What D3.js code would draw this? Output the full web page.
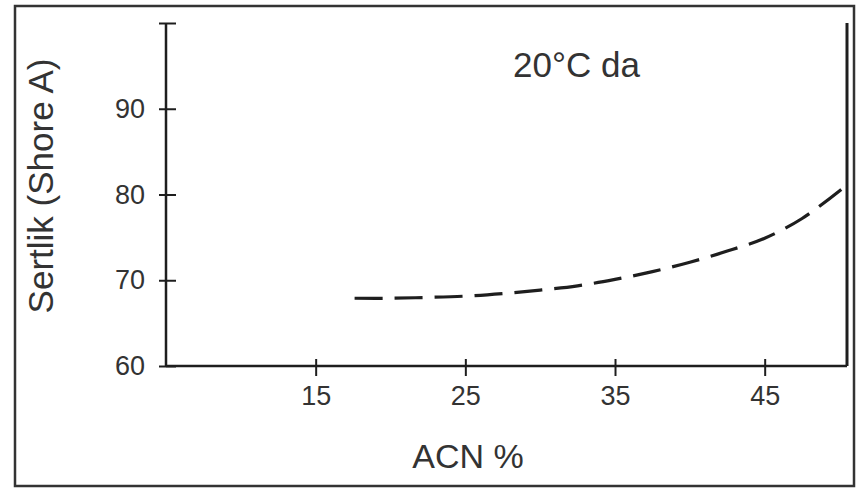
<!DOCTYPE html>
<html>
<head>
<meta charset="utf-8">
<script src="https://cdn.jsdelivr.net/npm/d3@7"></script>
<style>
html,body{margin:0;padding:0;background:#fff;}
svg{display:block;}
text{font-family:"Liberation Sans",Arial,Helvetica,sans-serif;fill:#333;}
</style>
</head>
<body>
<svg id="chart" width="856" height="488"></svg>
<script>
// Data
const acn      = [17.6, 20, 22.5, 25, 27.5, 30, 32.5, 35, 37.5, 40, 42.5, 45, 47.5, 50.2];
const hardness = [67.9, 67.9, 68.0, 68.15, 68.45, 68.85, 69.35, 70.1, 71.0, 72.1, 73.4, 74.9, 77.2, 80.7];
const xTicks = [15, 25, 35, 45];
const yTicks = [60, 70, 80, 90, 100];
const yLabels = ["60", "70", "80", "90", ""];
const titleText = "20°C da";
const xTitle = "ACN %";
const yTitle = "Sertlik (Shore A)";

const svg = d3.select("#chart");
const ink = "#1e1e1e";

// outer frame
svg.append("rect").attr("x", 15).attr("y", 6).attr("width", 839).attr("height", 480)
  .attr("fill", "#fff").attr("stroke", "#333").attr("stroke-width", 2.5);

const x = d3.scaleLinear().domain([5, 50.5]).range([166, 847]);
const y = d3.scaleLinear().domain([60, 100]).range([366, 23]);

// Y axis
const yAxis = svg.append("g").attr("transform", `translate(${x(5)},0)`)
  .call(d3.axisLeft(y).tickValues(yTicks).tickSize(7).tickPadding(14)
    .tickFormat((d, i) => yLabels[i]));
yAxis.select(".domain").remove();
yAxis.selectAll(".tick line").attr("x1", 10).attr("x2", -7).attr("stroke", ink).attr("stroke-width", 2);
yAxis.selectAll(".tick text").style("font-size", "27px").attr("fill", "#333");
svg.append("line").attr("x1", x(5)).attr("x2", x(5)).attr("y1", y(100)).attr("y2", y(60))
  .attr("stroke", ink).attr("stroke-width", 2.5);

// X axis
const xAxis = svg.append("g").attr("transform", `translate(0,${y(60)})`)
  .call(d3.axisBottom(x).tickValues(xTicks).tickSize(10).tickPadding(10).tickFormat(d3.format("d")));
xAxis.select(".domain").remove();
xAxis.selectAll(".tick line").attr("y1", -7).attr("y2", 10).attr("stroke", ink).attr("stroke-width", 2);
xAxis.selectAll(".tick text").style("font-size", "27px").attr("fill", "#333");
svg.append("line").attr("x1", x(5)).attr("x2", x(50.5)).attr("y1", y(60)).attr("y2", y(60))
  .attr("stroke", ink).attr("stroke-width", 2.5);

// right plot edge
svg.append("line").attr("x1", x(50.5)).attr("x2", x(50.5)).attr("y1", y(100)).attr("y2", y(60))
  .attr("stroke", ink).attr("stroke-width", 3);

// curve
const pts = acn.map((v, i) => [v, hardness[i]]);
const line = d3.line().x(d => x(d[0])).y(d => y(d[1])).curve(d3.curveCatmullRom.alpha(0.5));
svg.append("path").attr("d", line(pts)).attr("fill", "none")
  .attr("stroke", ink).attr("stroke-width", 3.2).attr("stroke-dasharray", "28,12");

// texts
svg.append("text").attr("x", 513).attr("y", 77).style("font-size", "35px").text(titleText);
svg.append("text").attr("x", 468).attr("y", 468).attr("text-anchor", "middle")
  .style("font-size", "34px").text(xTitle);
svg.append("text").attr("transform", "translate(53,186) rotate(-90)").attr("text-anchor", "middle")
  .style("font-size", "35px").text(yTitle);
</script>
</body>
</html>
